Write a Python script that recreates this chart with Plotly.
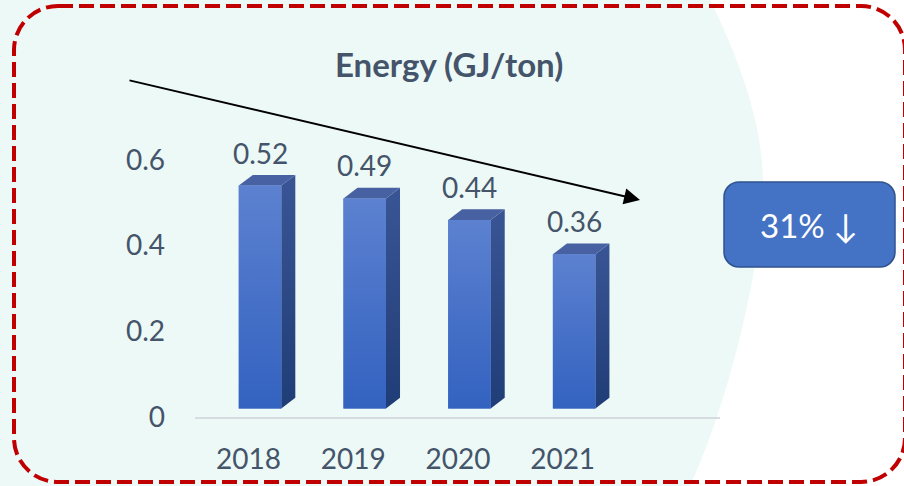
import plotly.graph_objects as go

# ---- data ----
years = ["2018", "2019", "2020", "2021"]
energy = [0.52, 0.49, 0.44, 0.36]
y_tick_vals = [0, 0.2, 0.4, 0.6]
y_tick_text = ["0", "0.2", "0.4", "0.6"]
title_text = "Energy (GJ/ton)"
callout_text = "31% \u2193"

# ---- layout geometry (pixels) ----
W, H = 904, 486
L, R, T, B = 195, 184, 150, 69
PW, PH = W - L - R, H - T - B


def X(px):
    return (px - L) / PW


def Y(py):
    return (H - B - py) / PH


def rrect(x0, y0, x1, y1, r):
    k = 0.5523 * r
    p = []
    p.append(f"M {X(x0 + r)},{Y(y0)}")
    p.append(f"L {X(x1 - r)},{Y(y0)}")
    p.append(f"C {X(x1 - r + k)},{Y(y0)} {X(x1)},{Y(y0 + r - k)} {X(x1)},{Y(y0 + r)}")
    p.append(f"L {X(x1)},{Y(y1 - r)}")
    p.append(f"C {X(x1)},{Y(y1 - r + k)} {X(x1 - r + k)},{Y(y1)} {X(x1 - r)},{Y(y1)}")
    p.append(f"L {X(x0 + r)},{Y(y1)}")
    p.append(f"C {X(x0 + r - k)},{Y(y1)} {X(x0)},{Y(y1 - r + k)} {X(x0)},{Y(y1 - r)}")
    p.append(f"L {X(x0)},{Y(y0 + r)}")
    p.append(f"C {X(x0)},{Y(y0 + r - k)} {X(x0 + r - k)},{Y(y0)} {X(x0 + r)},{Y(y0)}")
    p.append("Z")
    return " ".join(p)


TXT = "#44546A"
FONT = "Lato, 'Noto Sans', sans-serif"

# 3D bar styling (data units)
bar_w = 0.406
bar_off = -0.093
dx = 0.134
dy = 0.025
lift = 0.02

xs = list(range(len(years)))

fig = go.Figure()

# front faces as bars
fig.add_trace(go.Bar(
    x=xs, y=energy, base=lift, width=bar_w, offset=bar_off,
    marker=dict(color="#4A74CA", line=dict(width=0)),
    hoverinfo="skip", showlegend=False,
))

for i, v in zip(xs, energy):
    xl = i + bar_off
    xr = xl + bar_w
    top = v + lift
    # side face
    fig.add_trace(go.Scatter(
        x=[xr, xr + dx, xr + dx, xr, xr],
        y=[lift, lift + dy, top + dy, top, lift],
        mode="lines", fill="toself", line=dict(width=0, color="rgba(0,0,0,0)"),
        fillgradient=dict(type="vertical",
                          colorscale=[[0, "#1F3D77"], [1, "#3A5595"]]),
        hoverinfo="skip", showlegend=False,
    ))
    # top face
    fig.add_trace(go.Scatter(
        x=[xl, xl + dx, xr + dx, xr, xl],
        y=[top, top + dy, top + dy, top, top],
        mode="lines", fill="toself", line=dict(width=0, color="rgba(0,0,0,0)"),
        fillcolor="#4861A2",
        hoverinfo="skip", showlegend=False,
    ))
    # front gradient overlay
    fig.add_trace(go.Scatter(
        x=[xl, xr, xr, xl, xl],
        y=[lift, lift, top, top, lift],
        mode="lines", fill="toself", line=dict(width=0, color="rgba(0,0,0,0)"),
        fillgradient=dict(type="vertical",
                          colorscale=[[0, "#3362C0"], [1, "#5C81D0"]]),
        hoverinfo="skip", showlegend=False,
    ))

annotations = []
for i, v in zip(xs, energy):
    annotations.append(dict(
        x=i + bar_off + bar_w / 2, y=v + lift, xref="x", yref="y",
        text=f"{v:.2f}", showarrow=False, yanchor="middle", yshift=33,
        font=dict(family=FONT, size=28, color=TXT),
    ))

# title
annotations.append(dict(
    x=X(449), y=Y(64), xref="paper", yref="paper", text=f"<b>{title_text}</b>",
    showarrow=False, xanchor="center", yanchor="middle",
    font=dict(family=FONT, size=33, color=TXT),
))

# trend arrow
annotations.append(dict(
    x=X(640), y=Y(200), xref="paper", yref="paper", text="",
    showarrow=True, ax=128 - 640, ay=80 - 200,
    arrowhead=2, arrowsize=1.6, arrowwidth=2, arrowcolor="black", standoff=0,
))

# callout text
annotations.append(dict(
    x=X(809), y=Y(225), xref="paper", yref="paper", text=callout_text,
    showarrow=False, xanchor="center", yanchor="middle",
    font=dict(family=FONT, size=33, color="white"),
))

shapes = [
    # mint background
    dict(type="path", xref="paper", yref="paper", layer="below",
         path=(f"M {X(0)},{Y(0)} L {X(710)},{Y(0)} "
               f"C {X(740)},{Y(60)} {X(765)},{Y(130)} {X(763)},{Y(190)} "
               f"C {X(762)},{Y(260)} {X(730)},{Y(400)} {X(690)},{Y(486)} "
               f"L {X(0)},{Y(486)} Z"),
         fillcolor="#EDF9F6", line=dict(width=0)),
    # red dashed frame
    dict(type="path", xref="paper", yref="paper", layer="above",
         path=rrect(14, 6, 905, 482, 44),
         fillcolor="rgba(0,0,0,0)",
         line=dict(color="#C00000", width=4, dash="15px,6px")),
    # callout box
    dict(type="path", xref="paper", yref="paper", layer="above",
         path=rrect(724, 182, 895, 267, 15),
         fillcolor="#4472C4", line=dict(color="#2F528F", width=1.5)),
]

fig.update_layout(
    width=W, height=H,
    margin=dict(l=L, r=R, t=T, b=B, pad=0, autoexpand=False),
    paper_bgcolor="white", plot_bgcolor="rgba(0,0,0,0)",
    showlegend=False,
    annotations=annotations, shapes=shapes,
    xaxis=dict(range=[-0.511, 4.503], tickvals=xs, ticktext=years,
               showgrid=False, zeroline=False, showline=True,
               linecolor="#D6DCE0", linewidth=2, ticks="",
               ticklabelstandoff=16, automargin=False,
               tickfont=dict(family=FONT, size=28, color=TXT), fixedrange=True),
    yaxis=dict(range=[0, PH / 428.5], tickvals=y_tick_vals, ticktext=y_tick_text,
               showgrid=False, zeroline=False, showline=False, ticks="",
               ticklabelstandoff=29, automargin=False,
               tickfont=dict(family=FONT, size=28, color=TXT), fixedrange=True),
)

fig.write_html("out.html")
